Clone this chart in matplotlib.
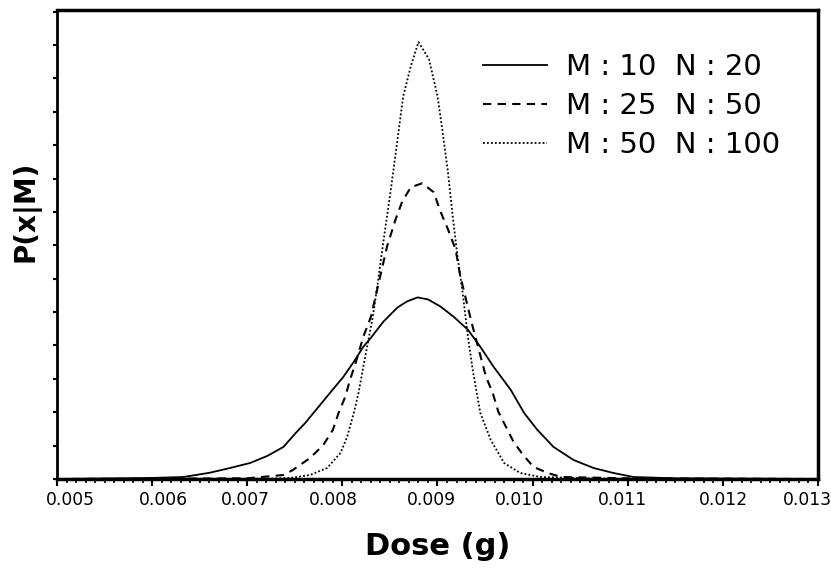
import numpy as np
import matplotlib
matplotlib.use('Agg')
import matplotlib.pyplot as plt
import matplotlib.transforms as mtransforms
from matplotlib.ticker import MultipleLocator, NullFormatter

plt.rcParams['font.family'] = ['DejaVu Sans']

# 曲线数据
x_m10 = [0.00500, 0.00598, 0.00633, 0.00661, 0.00682, 0.00703, 0.00721, 0.00738,
         0.00751, 0.00761, 0.00774, 0.00787, 0.00801, 0.00812, 0.00822, 0.00830,
         0.00843, 0.00858, 0.00868, 0.00879, 0.00890, 0.00903, 0.00917, 0.00932,
         0.00945, 0.00959, 0.00977, 0.00991, 0.01005, 0.01022, 0.01043, 0.01064,
         0.01085, 0.01106, 0.01150, 0.01300]
y_m10 = [0.0, 0.03, 0.06, 0.19, 0.33, 0.48, 0.69, 0.96,
         1.38, 1.68, 2.13, 2.58, 3.06, 3.51, 3.96, 4.23,
         4.71, 5.14, 5.32, 5.44, 5.38, 5.17, 4.86, 4.47,
         3.96, 3.36, 2.67, 1.98, 1.47, 0.96, 0.57, 0.33,
         0.18, 0.06, 0.02, 0.0]

x_m25 = [0.00500, 0.00700, 0.00738, 0.00748, 0.00766, 0.00780, 0.00790, 0.00796,
         0.00803, 0.00808, 0.00814, 0.00822, 0.00830, 0.00847, 0.00856, 0.00863,
         0.00872, 0.00884, 0.00896, 0.00903, 0.00911, 0.00919, 0.00924, 0.00937,
         0.00951, 0.00958, 0.00964, 0.00972, 0.00980, 0.00990, 0.01001, 0.01016,
         0.01030, 0.01100, 0.01300]
y_m25 = [0.0, 0.02, 0.12, 0.27, 0.63, 1.02, 1.47, 1.98,
         2.46, 2.97, 3.48, 4.26, 4.86, 6.97, 7.78, 8.32,
         8.74, 8.86, 8.59, 8.02, 7.48, 6.88, 6.07, 4.56,
         3.06, 2.58, 2.01, 1.56, 1.11, 0.72, 0.36, 0.18,
         0.06, 0.02, 0.0]

x_m50 = [0.00500, 0.00720, 0.00745, 0.00766, 0.00784, 0.00798, 0.00805, 0.00812,
         0.00817, 0.00822, 0.00826, 0.00832, 0.00837, 0.00843, 0.00851, 0.00858,
         0.00864, 0.00872, 0.00880, 0.00891, 0.00900, 0.00905, 0.00911, 0.00916,
         0.00921, 0.00926, 0.00932, 0.00937, 0.00945, 0.00956, 0.00970, 0.00987,
         0.01008, 0.01080, 0.01300]
y_m50 = [0.0, 0.01, 0.03, 0.12, 0.33, 0.78, 1.26, 1.98,
         2.58, 3.36, 3.96, 4.86, 5.83, 7.09, 8.68, 10.18,
         11.47, 12.37, 13.09, 12.58, 11.47, 10.48, 9.19, 7.87,
         6.67, 5.68, 4.26, 3.27, 1.98, 1.17, 0.48, 0.18,
         0.06, 0.01, 0.0]

labels = ['M : 10  N : 20', 'M : 25  N : 50', 'M : 50  N : 100']
xticks = [0.005, 0.006, 0.007, 0.008, 0.009, 0.010, 0.011, 0.012, 0.013]
xticklabels = ['0.005', '0.006', '0.007', '0.008', '0.009', '0.010', '0.011', '0.012', '0.013']

fig = plt.figure(figsize=(8.31, 5.69), dpi=100)
ax = fig.add_axes([57/831, 1-479/569, 761/831, 469/569])

ax.plot(x_m10, y_m10, color='black', lw=1.3, ls='-', label=labels[0])
ax.plot(x_m25, y_m25, color='black', lw=1.5, ls=(0, (4, 3)), label=labels[1])
ax.plot(x_m50, y_m50, color='black', lw=1.3, ls=(0, (1, 1.2)), label=labels[2])

ax.set_xlim(0.005, 0.013)
ax.set_ylim(0, 14.05)

ax.set_xticks(xticks)
ax.xaxis.set_minor_locator(MultipleLocator(0.0001))
ax.yaxis.set_major_locator(MultipleLocator(1))
ax.yaxis.set_major_formatter(NullFormatter())

ax.tick_params(axis='x', which='major', direction='out', length=5, width=1.5,
               labelbottom=False)
ax.tick_params(axis='x', which='minor', direction='out', length=3, width=1.2)
ax.tick_params(axis='y', which='major', direction='out', length=3, width=1.5)

# 刻度标签自己画，原图中标签相对刻度略有偏移（像素）
shifts = [13, 11, -2, -9, -6, -13, -5, 1, -11]
for v, t, dx in zip(xticks, xticklabels, shifts):
    tr = ax.get_xaxis_transform() + mtransforms.ScaledTranslation(
        dx/100, -12/100, fig.dpi_scale_trans)
    ax.text(v, 0, t, transform=tr, ha='center', va='top', fontsize=12.3,
            clip_on=False)

for s in ['top', 'right', 'bottom']:
    ax.spines[s].set_linewidth(2.5)
ax.spines['left'].set_linewidth(2)

ax.set_xlabel('Dose (g)', fontsize=22, fontweight='bold')
ax.xaxis.set_label_coords(0.5, -0.113)
ax.set_ylabel('P(x|M)', fontsize=20, fontweight='bold')
ax.yaxis.set_label_coords(-0.022, 0.57)

ax.legend(loc='upper left', bbox_to_anchor=(0.56, 0.908), frameon=False,
          fontsize=21, handlelength=2.2, handletextpad=0.65, labelspacing=0.38,
          borderaxespad=0, borderpad=0)

plt.savefig('out.png', dpi=100)
